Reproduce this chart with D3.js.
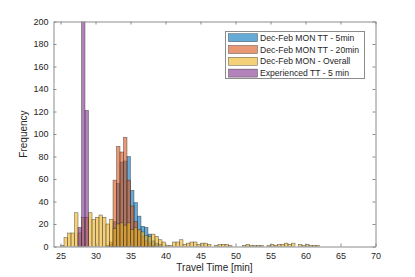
<!DOCTYPE html>
<html>
<head>
<meta charset="utf-8">
<script src="https://d3js.org/d3.v7.min.js"></script>
<style>
  body { margin: 0; background: #fff; }
  text { font-family: "Liberation Sans", Arial, sans-serif; }
</style>
</head>
<body>
<script>
// histogram counts, bins are 0.5 min wide, first bin starts at *Start
var binWidth = 0.5;

var blueStart = 31.5;
var blueCounts = [1, 2, 22, 56, 75, 76, 80, 50, 39, 27, 18, 17, 11, 5, 3, 2];

var orangeStart = 32;
var orangeCounts = [4, 59, 89, 84, 97, 59, 36, 22, 14, 9, 5, 3, 1];

var yellowStart = 25;
var yellowCounts = [1, 8, 12, 12, 30, 12, 26, 26, 30, 24, 26, 28, 26, 20, 24, 16,
  20, 21, 19, 21, 15, 17, 15, 13, 10, 9, 11, 9, 6, 4, 1, 1, 4, 4, 6, 2, 3, 4, 4, 2,
  3, 3, 2, 0, 1, 2, 2, 2, 1, 0, 0, 0, 1, 2, 1, 1, 1, 1, 0, 1, 2, 1, 2, 2, 3, 2, 3, 0,
  2, 1, 2, 1, 1, 1];

var purpleStart = 27.5;
var purpleCounts = [17, 260, 121];

var seriesNames = ["Dec-Feb MON TT - 5min", "Dec-Feb MON TT - 20min",
  "Dec-Feb MON - Overall", "Experienced TT - 5 min"];
var seriesColors = ["#0072bd", "#d95319", "#edb120", "#7e2f8e"];

var xTicks = [25, 30, 35, 40, 45, 50, 55, 60, 65, 70];
var yTicks = [0, 20, 40, 60, 80, 100, 120, 140, 160, 180, 200];

var series = [
  {start: blueStart, counts: blueCounts},
  {start: orangeStart, counts: orangeCounts},
  {start: yellowStart, counts: yellowCounts},
  {start: purpleStart, counts: purpleCounts}
];

var W = 415, H = 277;
var box = {left: 53.5, right: 375.5, top: 21.5, bottom: 246.5};

var svg = d3.select("body")
            .append("svg")
            .attr("width", W)
            .attr("height", H);

var xScale = d3.scaleLinear().domain([24, 70]).range([box.left, box.right]);
var yScale = d3.scaleLinear().domain([0, 200]).range([box.bottom, box.top]);

svg.append("clipPath")
   .attr("id", "plotclip")
   .append("rect")
   .attr("x", box.left).attr("y", box.top)
   .attr("width", box.right - box.left).attr("height", box.bottom - box.top);

var plot = svg.append("g").attr("clip-path", "url(#plotclip)");

series.forEach(function(s, k) {
  var bins = s.counts.map(function(c, i) {
    return {x0: s.start + i * binWidth, n: c};
  });
  plot.append("g")
      .selectAll("rect")
      .data(bins)
      .enter()
      .append("rect")
      .attr("x", d => xScale(d.x0))
      .attr("width", d => xScale(d.x0 + binWidth) - xScale(d.x0))
      .attr("y", d => yScale(d.n))
      .attr("height", d => yScale(0) - yScale(d.n))
      .attr("fill", seriesColors[k])
      .attr("fill-opacity", 0.6)
      .attr("stroke", "#262626")
      .attr("stroke-opacity", 0.75)
      .attr("stroke-width", 0.5);
});

// axes, matlab style box with inward ticks
var axisColor = "#8c8c8c";
var tickLen = 3;

var xAxis = d3.axisBottom(xScale).tickValues(xTicks).tickSizeInner(-tickLen).tickSizeOuter(0).tickPadding(6);
var xTop = d3.axisTop(xScale).tickValues(xTicks).tickSizeInner(-tickLen).tickSizeOuter(0).tickFormat("");
var yAxis = d3.axisLeft(yScale).tickValues(yTicks).tickSizeInner(-tickLen).tickSizeOuter(0).tickPadding(5);
var yRight = d3.axisRight(yScale).tickValues(yTicks).tickSizeInner(-tickLen).tickSizeOuter(0).tickFormat("");

var gx = svg.append("g").attr("transform", "translate(0," + box.bottom + ")").call(xAxis);
var gxt = svg.append("g").attr("transform", "translate(0," + box.top + ")").call(xTop);
var gy = svg.append("g").attr("transform", "translate(" + box.left + ",0)").call(yAxis);
var gyr = svg.append("g").attr("transform", "translate(" + box.right + ",0)").call(yRight);

[gx, gxt, gy, gyr].forEach(function(g) {
  g.selectAll("path").attr("stroke", axisColor);
  g.selectAll("line").attr("stroke", axisColor);
  g.selectAll("text")
   .attr("fill", "#262626")
   .style("font-size", "9px")
   .style("font-family", "'Liberation Sans', Arial, sans-serif");
});

svg.append("text")
   .attr("x", (box.left + box.right) / 2)
   .attr("y", 271)
   .attr("text-anchor", "middle")
   .attr("fill", "#262626")
   .style("font-size", "10px")
   .text("Travel Time [min]");

svg.append("text")
   .attr("transform", "translate(27," + ((box.top + box.bottom) / 2) + ") rotate(-90)")
   .attr("text-anchor", "middle")
   .attr("fill", "#262626")
   .style("font-size", "10px")
   .text("Frequency");

// legend
var lg = svg.append("g");
lg.append("rect")
  .attr("x", 225.5).attr("y", 31.5)
  .attr("width", 139).attr("height", 47)
  .attr("fill", "#fff")
  .attr("stroke", axisColor);

seriesNames.forEach(function(name, i) {
  var cy = 37.7 + i * 11.8;
  lg.append("rect")
    .attr("x", 228.5).attr("y", cy - 4)
    .attr("width", 29).attr("height", 8)
    .attr("fill", seriesColors[i])
    .attr("fill-opacity", 0.6)
    .attr("stroke", "#262626")
    .attr("stroke-opacity", 0.75)
    .attr("stroke-width", 0.5);
  lg.append("text")
    .attr("x", 260).attr("y", cy + 3.1)
    .attr("fill", "#262626")
    .style("font-size", "8.6px")
    .text(name);
});
</script>
</body>
</html>
